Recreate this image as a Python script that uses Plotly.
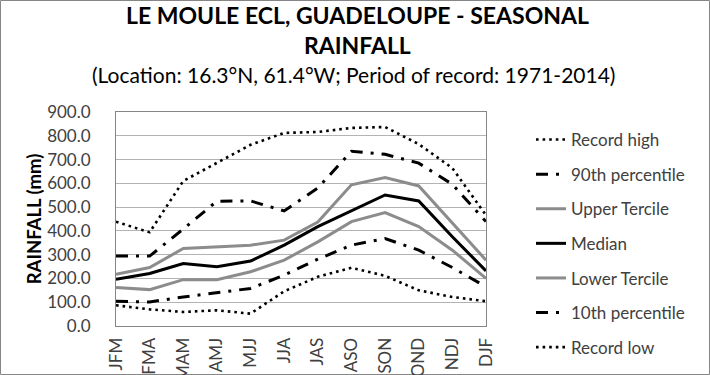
import plotly.graph_objects as go

seasons = ["JFM", "FMA", "MAM", "AMJ", "MJJ", "JJA", "JAS", "ASO", "SON", "OND", "NDJ", "DJF"]
record_high = [439, 394, 610, 685, 762, 812, 816, 833, 837, 765, 664, 466]
p90 = [294, 294, 408, 525, 526, 484, 580, 735, 722, 685, 596, 439]
upper_tercile = [217, 246, 326, 333, 340, 361, 437, 594, 624, 589, 433, 277]
median = [197, 221, 263, 249, 273, 340, 418, 484, 551, 526, 375, 232]
lower_tercile = [162, 153, 195, 195, 228, 277, 354, 439, 477, 418, 319, 200]
p10 = [104, 101, 122, 140, 158, 214, 281, 340, 368, 319, 246, 165]
record_low = [87, 70, 59, 66, 52, 146, 207, 245, 211, 150, 122, 104]

y_ticks = [0, 100, 200, 300, 400, 500, 600, 700, 800, 900]

FONT = "Lato"
series = [
    ("Record high", record_high, dict(color="black", width=2.6, dash="2.6px,4px")),
    ("90th percentile", p90, dict(color="black", width=3, dash="12px,8px,3px,8px")),
    ("Upper Tercile", upper_tercile, dict(color="#8c8c8c", width=3)),
    ("Median", median, dict(color="black", width=3)),
    ("Lower Tercile", lower_tercile, dict(color="#8c8c8c", width=3)),
    ("10th percentile", p10, dict(color="black", width=3, dash="12px,8px,3px,8px")),
    ("Record low", record_low, dict(color="black", width=2.6, dash="2.6px,4px")),
]

fig = go.Figure()
for i, (name, vals, line) in enumerate(series):
    fig.add_trace(go.Scatter(x=seasons, y=vals, mode="lines", name=name, line=line,
                             legendgroup=f"g{i}"))

L, R, T, B = 116, 224, 112, 49
W, H = 710, 375
pw, ph = W - L - R, H - T - B


def px(xpix):
    return (xpix - L) / pw


def py(ypix):
    return (H - B - ypix) / ph


fig.update_layout(
    width=W, height=H,
    margin=dict(l=L, r=R, t=T, b=B, autoexpand=False),
    paper_bgcolor="white", plot_bgcolor="white",
    font=dict(family=FONT, color="#404040", size=17),
    showlegend=True,
    legend=dict(x=px(531), xanchor="left", y=py(122), yanchor="top",
                font=dict(family=FONT, size=17, color="#404040"),
                tracegroupgap=9.5, traceorder="grouped", bgcolor="rgba(0,0,0,0)",
                maxheight=320),
    xaxis=dict(type="category", tickangle=-90, showgrid=False,
               showline=True, linecolor="#868686", linewidth=1, mirror=True,
               tickfont=dict(family=FONT, size=17, color="#404040"),
               ticklabelstandoff=4, fixedrange=True),
    yaxis=dict(range=[0, 900], tickvals=y_ticks,
               ticktext=[f"{v:.1f}" for v in y_ticks],
               showgrid=True, gridcolor="#b3b3b3", gridwidth=1,
               showline=True, linecolor="#868686", linewidth=1, mirror=True,
               zeroline=False, fixedrange=True,
               tickfont=dict(family=FONT, size=17, color="#404040"),
               ticklabelstandoff=21,
               title=dict(text="<b>RAINFALL (mm)</b>", standoff=0,
                          font=dict(family=FONT, size=18.5, color="black"))),
)

annots = [
    ("<b>LE MOULE ECL, GUADELOUPE - SEASONAL</b>", 357, 15, 23, "black"),
    ("<b>RAINFALL</b>", 357, 45, 23, "black"),
    ("(Location: 16.3°N, 61.4°W; Period of record: 1971-2014)", 353, 75, 21, "black"),
]
for text, xx, yy, sz, col in annots:
    fig.add_annotation(text=text, xref="paper", yref="paper", x=px(xx), y=py(yy),
                       xanchor="center", yanchor="middle", showarrow=False,
                       font=dict(family=FONT, size=sz, color=col))

fig.add_shape(type="rect", xref="paper", yref="paper",
              x0=px(0.5), x1=px(709.5), y0=py(374.5), y1=py(0.5),
              line=dict(color="#868686", width=1), layer="below")

fig.write_html("out.html", config={"displayModeBar": False},
               post_script="document.body.style.margin='0';document.body.style.overflow='hidden';")
